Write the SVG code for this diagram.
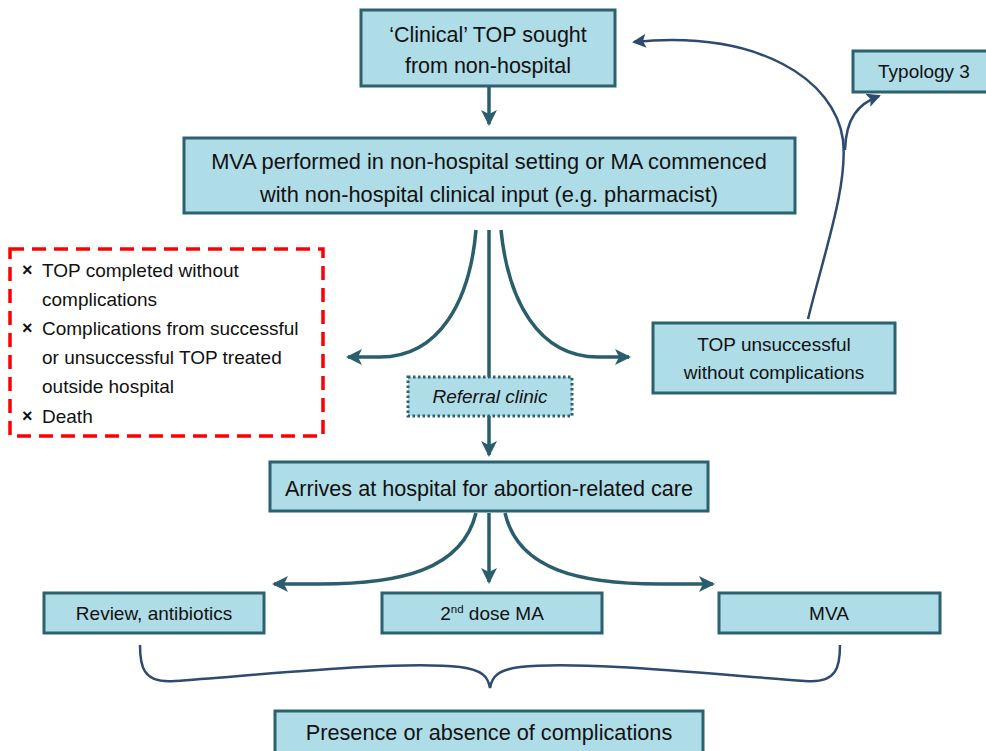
<svg xmlns="http://www.w3.org/2000/svg" width="986" height="751" viewBox="0 0 986 751">
<style>
.box{fill:#AEDCE7;stroke:#2C6170;stroke-width:3}
.t{font-family:"Liberation Sans",Arial,sans-serif;fill:#111;text-anchor:middle}
.tl{font-family:"Liberation Sans",Arial,sans-serif;fill:#111}
.c{fill:none;stroke:#2A5E6C;stroke-width:3.5}
.n{fill:none;stroke:#2D4A70;stroke-width:2.5}
</style>
<defs>
<marker id="ah" markerUnits="userSpaceOnUse" viewBox="0 0 16 16" refX="14" refY="8" markerWidth="16" markerHeight="16" orient="auto">
<path d="M0,0 L16,8 L0,16 L4,8 Z" fill="#2A5E6C"/>
</marker>
<marker id="an" markerUnits="userSpaceOnUse" viewBox="0 0 14 14" refX="12" refY="7" markerWidth="14" markerHeight="14" orient="auto">
<path d="M0,0 L14,7 L0,14 L3,7 Z" fill="#2D4A70"/>
</marker>
</defs>

<g id="connectors">
<path class="c" d="M489,87 L489,124" marker-end="url(#ah)"/>
<path class="c" d="M489,230 L489,377"/>
<path class="c" d="M476,230 C470,300 440,357 380,357 L348,357" marker-end="url(#ah)"/>
<path class="c" d="M501,230 C508,300 538,357 598,357 L629,357" marker-end="url(#ah)"/>
<path class="c" d="M489,416 L489,455" marker-end="url(#ah)"/>
<path class="c" d="M489,513 L489,582" marker-end="url(#ah)"/>
<path class="c" d="M476,513 C462,570 400,584 320,584 L274,584" marker-end="url(#ah)"/>
<path class="c" d="M505,513 C518,570 580,584 660,584 L713,584" marker-end="url(#ah)"/>
<path class="n" d="M808,319 C825,250 848,185 843,140 C835,80 760,30 634,42" marker-end="url(#an)"/>
<path class="n" d="M845,150 C846,118 858,104 879,96" marker-end="url(#an)"/>
<path class="n" d="M140,645 C140,665 142,684 175,681 C260,675 400,660 460,667 C482,670 488,676 490,688 C492,676 498,670 520,667 C580,660 720,675 805,681 C838,684 840,665 840,645"/>
</g>

<g id="n1">
<rect class="box" x="361" y="10" width="254" height="76"/>
<text class="t" x="488" y="42" font-size="21.5">‘Clinical’ TOP sought</text>
<text class="t" x="488" y="73" font-size="21.5">from non-hospital</text>
</g>

<g id="n2">
<rect class="box" x="184" y="138" width="611" height="75"/>
<text class="t" x="489" y="169" font-size="21.8">MVA performed in non-hospital setting or MA commenced</text>
<text class="t" x="489" y="202" font-size="21.8">with non-hospital clinical input (e.g. pharmacist)</text>
</g>

<g id="outcomes">
<rect x="10" y="249" width="313" height="187" fill="none" stroke="#FF0000" stroke-width="3.5" stroke-dasharray="14,8"/>
<text class="tl" x="22" y="276" font-size="18" font-weight="bold">×</text>
<text class="tl" x="42" y="277" font-size="19">TOP completed without</text>
<text class="tl" x="42" y="306" font-size="19">complications</text>
<text class="tl" x="22" y="334" font-size="18" font-weight="bold">×</text>
<text class="tl" x="42" y="335" font-size="19">Complications from successful</text>
<text class="tl" x="42" y="364" font-size="19">or unsuccessful TOP treated</text>
<text class="tl" x="42" y="393" font-size="19">outside hospital</text>
<text class="tl" x="22" y="422" font-size="18" font-weight="bold">×</text>
<text class="tl" x="42" y="423" font-size="19">Death</text>
</g>

<g id="referral">
<rect x="408" y="377" width="164" height="39" fill="#AEDCE7" stroke="#2C6170" stroke-width="3" stroke-dasharray="2.5,2.5"/>
<text class="t" x="490" y="403" font-size="19" font-style="italic">Referral clinic</text>
</g>

<g id="unsuccessful">
<rect class="box" x="653" y="323" width="242" height="70"/>
<text class="t" x="774" y="351" font-size="19">TOP unsuccessful</text>
<text class="t" x="774" y="379" font-size="19">without complications</text>
</g>

<g id="typology3">
<rect class="box" x="853" y="51" width="140" height="41"/>
<text class="t" x="924" y="78" font-size="19">Typology 3</text>
</g>

<g id="arrives">
<rect class="box" x="270" y="462" width="438" height="49"/>
<text class="t" x="489" y="496" font-size="21.6">Arrives at hospital for abortion-related care</text>
</g>

<g id="review">
<rect class="box" x="44" y="593" width="220" height="40"/>
<text class="t" x="154" y="620" font-size="19">Review, antibiotics</text>
</g>

<g id="dose2">
<rect class="box" x="382" y="593" width="220" height="40"/>
<text class="t" x="492" y="620" font-size="19">2<tspan font-size="11.5" dy="-7">nd</tspan><tspan dy="7"> dose MA</tspan></text>
</g>

<g id="mva">
<rect class="box" x="719" y="593" width="221" height="40"/>
<text class="t" x="829" y="620" font-size="19">MVA</text>
</g>

<g id="presence">
<rect class="box" x="275" y="711" width="428" height="50"/>
<text class="t" x="489" y="740" font-size="21.7">Presence or absence of complications</text>
</g>
</svg>
